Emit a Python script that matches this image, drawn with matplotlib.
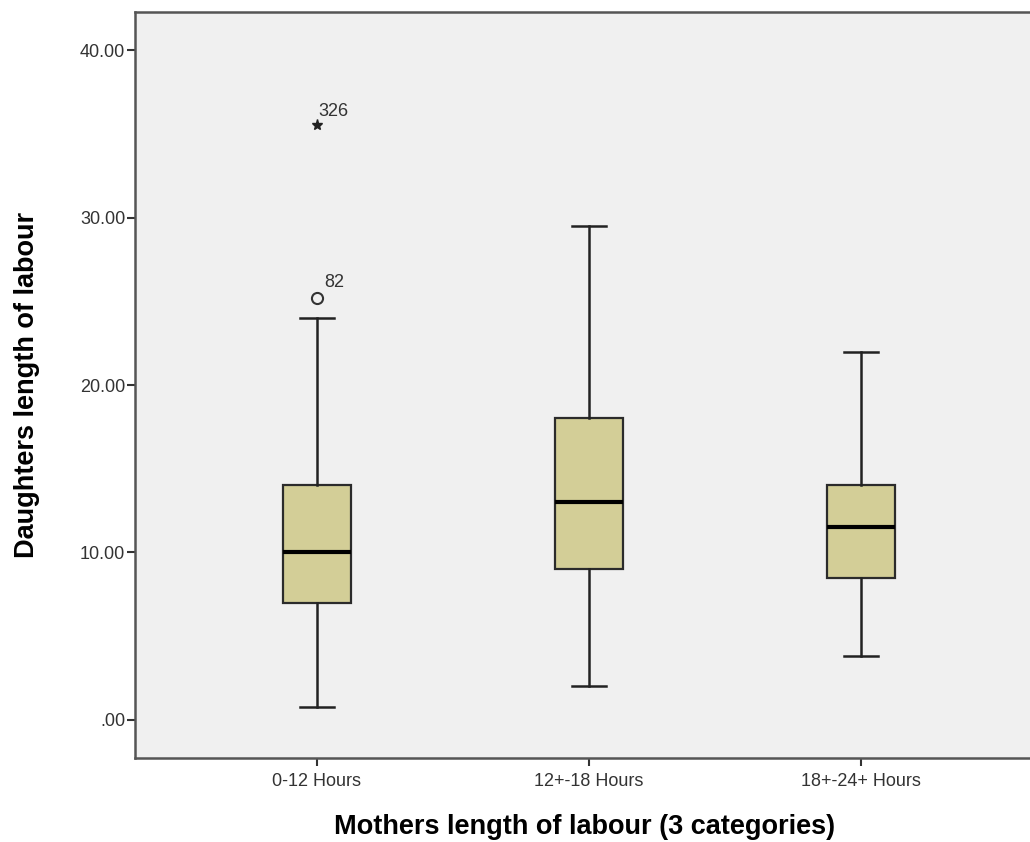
import matplotlib
matplotlib.use("Agg")
import matplotlib.pyplot as plt

plt.rcParams["font.family"] = ["Liberation Sans", "DejaVu Sans"]

groups = ["0-12 Hours", "12+-18 Hours", "18+-24+ Hours"]
q1 = [7.0, 9.0, 8.5]
med = [10.0, 13.0, 11.5]
q3 = [14.0, 18.0, 14.0]
whislo = [0.8, 2.0, 3.8]
whishi = [24.0, 29.5, 22.0]

# outliers for the first group: (value, case id)
mild = [(25.2, "82")]
extreme = [(35.5, "326")]

stats = []
for i, g in enumerate(groups):
    stats.append(dict(label=g, q1=q1[i], med=med[i], q3=q3[i],
                      whislo=whislo[i], whishi=whishi[i], fliers=[]))

fig = plt.figure(figsize=(10.3, 8.42), dpi=100)
ax = fig.add_axes([135 / 1030, 84 / 842, 900 / 1030, 746 / 842])
ax.set_facecolor("#f0f0f0")

ax.bxp(stats, positions=[1, 2, 3], widths=0.25, patch_artist=True,
       boxprops=dict(facecolor="#d3ce97", edgecolor="#2b2b2b", linewidth=1.6),
       medianprops=dict(color="black", linewidth=3),
       whiskerprops=dict(color="#222222", linewidth=1.8),
       capprops=dict(color="#222222", linewidth=1.8),
       capwidths=0.125)

for v, lab in mild:
    ax.plot(1, v, "o", mfc="none", mec="#333333", ms=8, mew=1.5)
    ax.annotate(lab, (1, v), xytext=(5, 8), textcoords="offset points",
                fontsize=13, color="#333333")
for v, lab in extreme:
    ax.plot(1, v, "*", color="#222222", ms=8)
    ax.annotate(lab, (1, v), xytext=(1, 7), textcoords="offset points",
                fontsize=13, color="#333333")

ax.set_xlim(0.331, 3.64)
ax.set_ylim(-2.27, 42.27)
ax.set_yticks([0, 10, 20, 30, 40])
ax.set_yticklabels([".00", "10.00", "20.00", "30.00", "40.00"])
ax.tick_params(axis="both", labelsize=13, labelcolor="#333333",
               color="#333333", width=1.5, length=6)
ax.tick_params(axis="y", pad=1)
ax.tick_params(axis="x", pad=5)

for side in ["left", "bottom", "top"]:
    ax.spines[side].set_linewidth(1.8)
    ax.spines[side].set_color("#555555")
ax.spines["right"].set_visible(False)

ax.set_xlabel("Mothers length of labour (3 categories)", fontsize=19.5,
              fontweight="bold", labelpad=17)
ax.set_ylabel("Daughters length of labour", fontsize=19.5,
              fontweight="bold", labelpad=29)

fig.savefig("out.png", dpi=100)
